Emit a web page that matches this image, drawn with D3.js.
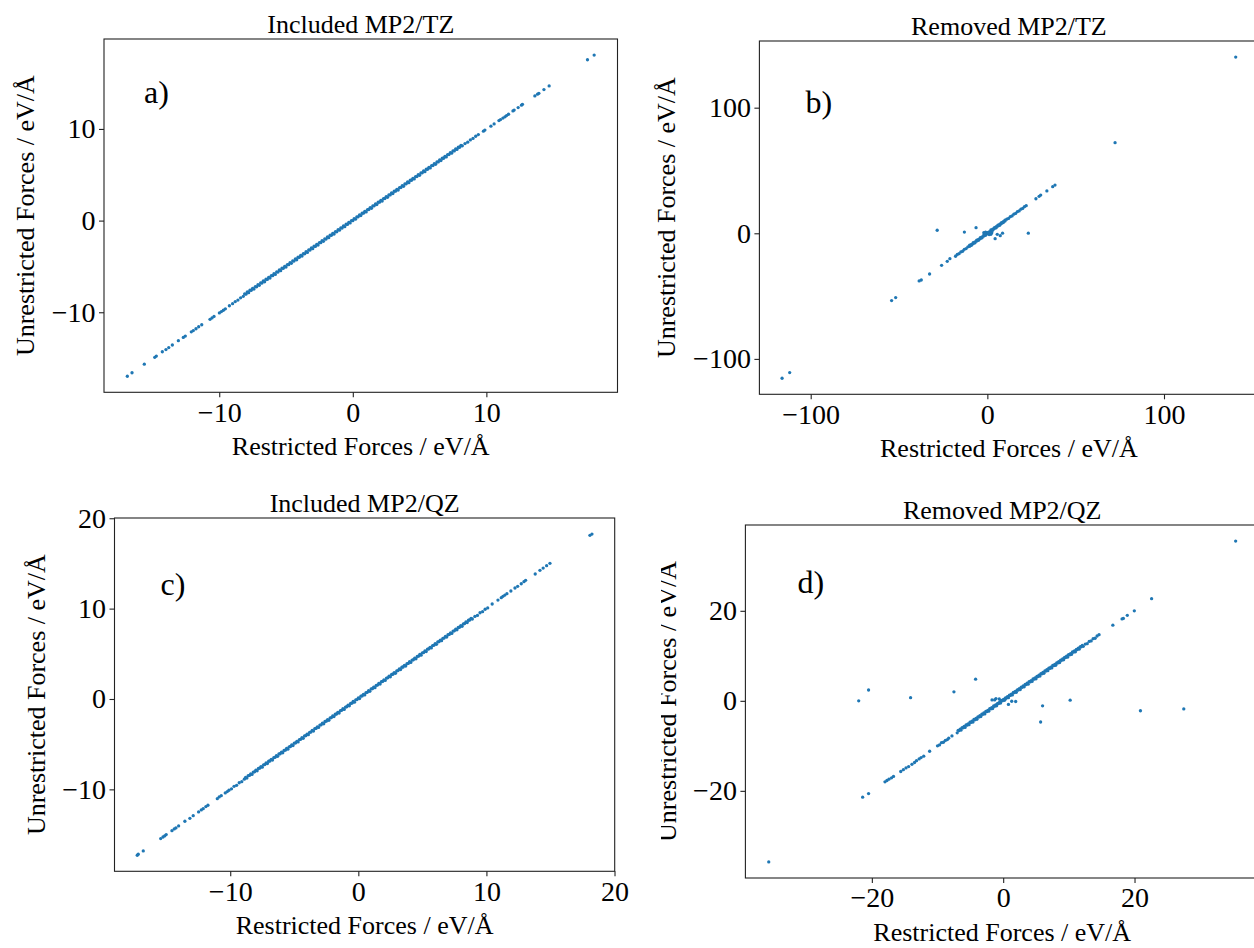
<!DOCTYPE html>
<html>
<head>
<meta charset="utf-8">
<script src="https://cdnjs.cloudflare.com/ajax/libs/d3/7.8.5/d3.min.js"></script>
<style>
  body { margin: 0; background: #fff; }
  svg text { font-family: "Liberation Serif", "DejaVu Serif", serif; fill: #000; }
</style>
</head>
<body>
<div id="chart"></div>
<script>

// ---- data: restricted (x) vs unrestricted (y) forces, eV/Å ----

// a) Included MP2/TZ
var aLow = [[-16.88,-16.98],[-16.53,-16.6],[-15.61,-15.66],[-14.83,-14.92],[-14.71,-14.78],[-14.26,-14.31],[-13.99,-14.07],
  [-13.78,-13.85],[-13.51,-13.57],[-13.06,-13.1],[-12.69,-12.74],[-12.54,-12.6],[-12.09,-12.13],[-11.94,-12.0],[-11.74,-11.8],
  [-11.54,-11.58],[-11.31,-11.36],[-10.69,-10.77],[-10.54,-10.62],[-10.39,-10.45],[-9.99,-10.07],[-9.84,-9.93],[-9.69,-9.78],
  [-9.54,-9.63],[-9.24,-9.29]];
var aDense = [[-9.0,-9.06],[-8.8,-8.83],[-8.6,-8.67],[-8.4,-8.42],[-8.2,-8.26],[-8.0,-8.03],[-7.8,-7.86],[-7.6,-7.61],[-7.4,-7.47],
  [-7.2,-7.22],[-7.0,-7.06],[-6.8,-6.81],[-6.6,-6.67],[-6.4,-6.42],[-6.2,-6.26],[-6.0,-6.01],[-5.8,-5.87],[-5.6,-5.62],[-5.4,-5.46],
  [-5.2,-5.21],[-5.0,-5.07],[-4.8,-4.81],[-4.6,-4.66],[-4.4,-4.42],[-4.2,-4.27],[-4.0,-4.01],[-3.8,-3.86],[-3.6,-3.62],[-3.4,-3.47],
  [-3.2,-3.21],[-3.0,-3.06],[-2.8,-2.82],[-2.6,-2.66],[-2.4,-2.41],[-2.2,-2.26],[-2.0,-2.02],[-1.8,-1.86],[-1.6,-1.61],[-1.4,-1.46],
  [-1.2,-1.22],[-1.0,-1.05],[-0.8,-0.81],[-0.6,-0.66],[-0.4,-0.42],[-0.2,-0.25],[0.0,-0.01],[0.2,0.15],[0.4,0.41],[0.6,0.55],
  [0.8,0.81],[1.0,0.95],[1.2,1.21],[1.4,1.35],[1.6,1.61],[1.8,1.75],[2.0,2.01],[2.2,2.14],[2.4,2.41],[2.6,2.55],[2.8,2.8],
  [3.0,2.95],[3.2,3.21],[3.4,3.34],[3.6,3.6],[3.8,3.75],[4.0,4.01],[4.2,4.14],[4.4,4.4],[4.6,4.55],[4.8,4.8],[5.0,4.95],
  [5.2,5.21],[5.4,5.34],[5.6,5.6],[5.8,5.75],[6.0,6.0],[6.2,6.15],[6.4,6.4],[6.6,6.55],[6.8,6.8],[7.0,6.95],[7.2,7.2],
  [7.4,7.36],[7.6,7.6],[7.8,7.76],[8.0,8.0],[8.2,8.16],[8.4,8.4],[8.6,8.56],[8.8,8.8],[9.0,8.96],[9.2,9.2],[9.4,9.38]];
var aDense2 = [[-8.1,-8.0],[-7.9,-7.79],[-7.7,-7.6],[-7.5,-7.39],[-7.3,-7.2],[-7.1,-6.99],[-6.9,-6.8],[-6.7,-6.59],[-6.5,-6.4],
  [-6.3,-6.19],[-6.1,-6.0],[-5.9,-5.79],[-5.7,-5.6],[-5.5,-5.39],[-5.3,-5.2],[-5.1,-4.99],[-4.9,-4.8],[-4.7,-4.59],[-4.5,-4.4],
  [-4.3,-4.19],[-4.1,-4.0],[-3.9,-3.79],[-3.7,-3.6],[-3.5,-3.39],[-3.3,-3.2],[-3.1,-2.99],[-2.9,-2.8],[-2.7,-2.59],[-2.5,-2.4],
  [-2.3,-2.19],[-2.1,-2.0],[-1.9,-1.79],[-1.7,-1.6],[-1.5,-1.39],[-1.3,-1.2],[-1.1,-0.99],[-0.9,-0.8],[-0.7,-0.59],[-0.5,-0.4],
  [-0.3,-0.19],[-0.1,0.0],[0.1,0.21],[0.3,0.4],[0.5,0.61],[0.7,0.8],[0.9,1.01],[1.1,1.2],[1.3,1.41],[1.5,1.6],[1.7,1.81],
  [1.9,2.0],[2.1,2.21],[2.3,2.4],[2.5,2.61],[2.7,2.8],[2.9,3.01],[3.1,3.2],[3.3,3.41],[3.5,3.6],[3.7,3.81],[3.9,4.0],
  [4.1,4.21],[4.3,4.4],[4.5,4.61],[4.7,4.8],[4.9,5.01],[5.1,5.2],[5.3,5.41],[5.5,5.6],[5.7,5.81],[5.9,6.0],[6.1,6.21],
  [6.3,6.4],[6.5,6.61],[6.7,6.8],[6.9,7.01],[7.1,7.2],[7.3,7.41],[7.5,7.6],[7.7,7.81],[7.9,8.0],[8.1,8.21]];
var aHigh = [[9.78,9.76],[9.89,9.88],[10.34,10.3],[10.58,10.55],[10.94,10.91],[11.06,11.02],[11.24,11.18],[11.39,11.32],
  [11.51,11.46],[11.66,11.6],[11.99,11.96],[12.08,12.06],[12.38,12.33],[12.63,12.59],[12.7,12.68],[13.63,13.6],[13.83,13.79],
  [13.93,13.89],[14.31,14.29],[14.7,14.69],[17.57,17.55],[18.07,18.06]];

// b) Removed MP2/TZ
var bLine = [[-116.2,-115.4],[-111.9,-110.9],[-54.2,-53.6],[-51.9,-51.2],[-38.6,-37.9],[-37.4,-37.2],[-32.7,-32.4],
  [-25.9,-25.5],[-22.7,-22.3],[-21.2,-20.2],
  [-18,-18.3],[-17,-16.8],[-16,-16.2],[-15,-14.8],[-14,-14.3],[-13,-12.8],[-12,-12.2],[-11,-10.8],[-10,-10.3],[-9,-8.8],
  [-8,-8.3],[-7,-6.8],[-6,-6.2],[-5,-4.8],[-4,-4.3],[-3,-2.8],[-2,-2.2],[-1,-0.8],[0,-0.3],[1,1.2],[2,1.8],[3,3.2],[4,3.8],
  [5,5.2],[6,5.8],[7,7.2],[8,7.8],[9,9.2],[10,9.8],[11,11.2],[12,11.8],[13,13.2],[14,13.8],[15,15.2],[16,15.8],[17,17.2],
  [18,17.8],[19,19.2],[20,19.8],[21,21.2],[22,22.0],
  [-10,-9.4],[-8,-7.5],[-6,-5.4],[-4,-3.5],[-2,-1.4],[0,0.6],[2,2.6],[4,4.5],[6,6.5],[8,8.5],[10,10.5],
  [-9,-9.6],[-7,-7.6],[-5,-5.6],[-3,-3.6],[-1,-1.6],[1,0.4],[3,2.4],[5,4.4],[7,6.4],[9,8.5],
  [27.5,27.5],[29.3,29.4],[30.2,30.4],[33.7,33.7],[37.0,37.1],[38.3,38.4],[72.3,72.1],[140.6,140.3]];
var bOff = [[-2,0.5],[-1,1.0],[1,-1.0],[2,-0.8],[0.5,0.6],[-1.5,-0.3],[2.5,0.5],
  [-28.4,2.4],[-13.0,1.0],[-6.4,4.5],[4.4,-4.3],[5.6,-0.8],[7.3,-1.9],[8.6,0.1],[23.2,0.1]];

// c) Included MP2/QZ
var cLow = [[-17.26,-17.29],[-17.18,-17.18],[-16.79,-16.81],[-15.43,-15.45],[-15.25,-15.27],[-15.12,-15.15],[-15.0,-15.0],
  [-14.55,-14.57],[-14.37,-14.38],[-14.24,-14.27],[-14.03,-14.05],[-13.54,-13.53],[-13.15,-13.2],[-12.89,-12.91],[-12.47,-12.5],
  [-12.26,-12.28],[-12.11,-12.14],[-11.9,-11.91],[-11.74,-11.76],[-11.01,-11.03],[-10.86,-10.84],[-10.7,-10.7],[-10.39,-10.4],
  [-10.23,-10.25],[-10.1,-10.1]];
var cDense = [[-9.9,-9.94],[-9.7,-9.66],[-9.5,-9.55],[-9.3,-9.27],[-9.1,-9.15],[-8.9,-8.87],[-8.7,-8.75],[-8.5,-8.46],
  [-8.3,-8.35],[-8.1,-8.06],[-7.9,-7.95],[-7.7,-7.66],[-7.5,-7.55],[-7.3,-7.26],[-7.1,-7.15],[-6.9,-6.86],[-6.7,-6.75],
  [-6.5,-6.46],[-6.3,-6.35],[-6.1,-6.06],[-5.9,-5.95],[-5.7,-5.66],[-5.5,-5.55],[-5.3,-5.26],[-5.1,-5.15],[-4.9,-4.86],
  [-4.7,-4.75],[-4.5,-4.46],[-4.3,-4.35],[-4.1,-4.06],[-3.9,-3.95],[-3.7,-3.66],[-3.5,-3.55],[-3.3,-3.26],[-3.1,-3.15],
  [-2.9,-2.86],[-2.7,-2.75],[-2.5,-2.46],[-2.3,-2.35],[-2.1,-2.06],[-1.9,-1.95],[-1.7,-1.66],[-1.5,-1.55],[-1.3,-1.26],
  [-1.1,-1.15],[-0.9,-0.86],[-0.7,-0.75],[-0.5,-0.46],[-0.3,-0.35],[-0.1,-0.06],[0.1,0.05],[0.3,0.34],[0.5,0.45],[0.7,0.74],
  [0.9,0.85],[1.1,1.14],[1.3,1.25],[1.5,1.54],[1.7,1.65],[1.9,1.94],[2.1,2.05],[2.3,2.34],[2.5,2.45],[2.7,2.74],[2.9,2.85],
  [3.1,3.14],[3.3,3.25],[3.5,3.54],[3.7,3.65],[3.9,3.94],[4.1,4.05],[4.3,4.34],[4.5,4.45],[4.7,4.74],[4.9,4.85],[5.1,5.14],
  [5.3,5.25],[5.5,5.54],[5.7,5.65],[5.9,5.94],[6.1,6.05],[6.3,6.34],[6.5,6.45],[6.7,6.74],[6.9,6.85],[7.1,7.14],[7.3,7.25],
  [7.5,7.54],[7.7,7.65],[7.9,7.94],[8.1,8.05],[8.3,8.34],[8.5,8.45],[8.7,8.74],[8.9,8.85],[9.1,9.14],[9.3,9.25],[9.5,9.54],
  [9.7,9.66],[9.9,9.93],[10.1,10.08]];
var cDense2 = [[-8.8,-8.68],[-8.6,-8.49],[-8.4,-8.28],[-8.2,-8.09],[-8.0,-7.88],[-7.8,-7.69],[-7.6,-7.48],[-7.4,-7.29],
  [-7.2,-7.08],[-7.0,-6.89],[-6.8,-6.68],[-6.6,-6.49],[-6.4,-6.28],[-6.2,-6.09],[-6.0,-5.88],[-5.8,-5.69],[-5.6,-5.48],
  [-5.4,-5.29],[-5.2,-5.08],[-5.0,-4.89],[-4.8,-4.68],[-4.6,-4.49],[-4.4,-4.28],[-4.2,-4.09],[-4.0,-3.88],[-3.8,-3.69],
  [-3.6,-3.48],[-3.4,-3.29],[-3.2,-3.08],[-3.0,-2.89],[-2.8,-2.68],[-2.6,-2.49],[-2.4,-2.28],[-2.2,-2.09],[-2.0,-1.88],
  [-1.8,-1.69],[-1.6,-1.48],[-1.4,-1.29],[-1.2,-1.08],[-1.0,-0.89],[-0.8,-0.68],[-0.6,-0.49],[-0.4,-0.28],[-0.2,-0.09],
  [0.0,0.12],[0.2,0.31],[0.4,0.52],[0.6,0.71],[0.8,0.92],[1.0,1.11],[1.2,1.32],[1.4,1.51],[1.6,1.72],[1.8,1.91],[2.0,2.12],
  [2.2,2.31],[2.4,2.52],[2.6,2.71],[2.8,2.92],[3.0,3.11],[3.2,3.32],[3.4,3.51],[3.6,3.72],[3.8,3.91],[4.0,4.12],[4.2,4.31],
  [4.4,4.52],[4.6,4.71],[4.8,4.92],[5.0,5.11],[5.2,5.32],[5.4,5.51],[5.6,5.72],[5.8,5.91],[6.0,6.12],[6.2,6.31],[6.4,6.52],
  [6.6,6.71],[6.8,6.92],[7.0,7.11],[7.2,7.32],[7.4,7.51],[7.6,7.72],[7.8,7.91],[8.0,8.12],[8.2,8.31],[8.4,8.52],[8.6,8.71],
  [8.8,8.92]];
var cHigh = [[10.45,10.51],[10.9,10.95],[11.16,11.21],[11.29,11.36],[11.44,11.5],[11.6,11.65],[11.91,11.95],[12.23,12.28],
  [12.44,12.47],[12.72,12.75],[12.93,12.98],[13.06,13.13],[13.81,13.83],[14.18,14.24],[14.43,14.49],[14.7,14.75],
  [14.96,15.01],[18.08,18.11],[18.24,18.25]];

// d) Removed MP2/QZ
var dLow = [[-35.7,-35.8],[-21.4,-21.4],[-20.5,-20.6],[-18.0,-18.0],[-17.7,-17.7],[-17.4,-17.4],[-17.0,-17.1],[-16.7,-16.8],
  [-15.6,-15.7],[-15.2,-15.3],[-14.8,-14.9],[-14.4,-14.6],[-13.9,-14.1],[-13.5,-13.7],[-13.2,-13.3],[-12.8,-12.9],
  [-12.5,-12.6],[-12.1,-12.3],[-11.2,-11.2]];
var dDense = [[-10.0,-10.0],[-9.7,-9.8],[-9.4,-9.3],[-9.1,-9.2],[-8.8,-8.8],[-8.5,-8.6],[-8.3,-8.3],[-7.8,-7.8],
  [-7.0,-7.1],[-6.7,-6.6],[-6.4,-6.5],[-6.1,-6.0],[-5.8,-5.9],[-5.5,-5.4],[-5.2,-5.3],[-4.9,-4.8],[-4.6,-4.7],[-4.3,-4.2],
  [-4.0,-4.1],[-3.7,-3.6],[-3.4,-3.5],[-3.1,-3.0],[-2.8,-2.9],[-2.5,-2.4],[-2.2,-2.3],[-1.9,-1.8],[-1.6,-1.7],[-1.3,-1.2],
  [-1.0,-1.1],[-0.7,-0.6],[-0.4,-0.5],[-0.1,0.0],[0.2,0.1],[0.5,0.6],[0.8,0.7],[1.1,1.2],[1.4,1.3],[1.7,1.8],[2.0,1.9],
  [2.3,2.4],[2.6,2.5],[2.9,3.0],[3.2,3.1],[3.5,3.6],[3.8,3.7],[4.1,4.2],[4.4,4.3],[4.7,4.8],[5.0,4.9],[5.3,5.4],[5.6,5.5],
  [5.9,6.0],[6.2,6.1],[6.5,6.6],[6.8,6.7],[7.1,7.2],[7.4,7.3],[7.7,7.8],[8.0,7.9],[8.3,8.4],[8.6,8.5],[8.9,9.0],[9.2,9.1],
  [9.5,9.6],[9.8,9.7],[10.1,10.2],[10.4,10.3],[10.7,10.8],[11.0,10.9],[11.3,11.4],[11.6,11.5],[11.9,12.0],[12.2,12.1],
  [12.5,12.6],[12.8,12.7],[13.1,13.2],[13.4,13.3],[13.7,13.8],[14.0,13.9],[14.3,14.4],[14.6,14.7]];
var dDense2 = [[-6.85,-6.55],[-6.55,-6.3],[-6.25,-5.95],[-5.95,-5.7],[-5.65,-5.35],[-5.35,-5.1],[-5.05,-4.75],[-4.75,-4.5],
  [-4.45,-4.15],[-4.15,-3.9],[-3.85,-3.55],[-3.55,-3.3],[-3.25,-2.95],[-2.95,-2.7],[-2.65,-2.35],[-2.35,-2.1],[-2.05,-1.75],
  [-1.75,-1.5],[-1.45,-1.15],[-1.15,-0.9],[-0.85,-0.55],[-0.55,-0.3],[-0.25,0.05],[0.05,0.3],[0.35,0.65],[0.65,0.9],
  [0.95,1.25],[1.25,1.5],[1.55,1.85],[1.85,2.1],[2.15,2.45],[2.45,2.7],[2.75,3.05],[3.05,3.3],[3.35,3.65],[3.65,3.9],
  [3.95,4.25],[4.25,4.5],[4.55,4.85],[4.85,5.1],[5.15,5.45],[5.45,5.7],[5.75,6.05],[6.05,6.3],[6.35,6.65],[6.65,6.9],
  [6.95,7.25],[7.25,7.5],[7.55,7.85],[7.85,8.1],[8.15,8.45],[8.45,8.7],[8.75,9.05],[9.05,9.3],[9.35,9.65],[9.65,9.9],
  [9.95,10.25],[10.25,10.5],[10.55,10.85],[10.85,11.1],[11.15,11.45],[11.45,11.7],[11.75,12.05],[12.05,12.3]];
var dHigh = [[16.7,16.8],[18.1,18.2],[18.3,18.3],[18.9,19.0],[19.97,20.0],[22.6,22.7],[35.4,35.5]];
var dOff = [[-1.7,0.2],[-1.3,0.2],[-1.1,0.5],[-0.6,0.4],[-0.3,0.1],[0.3,0.4],[0.8,-0.8],[1.3,-0.1],[1.9,-0.15],
  [-22.0,0.0],[-20.5,2.4],[-14.1,0.7],[-7.5,2.0],[-4.2,4.8],[6.0,-1.1],[5.7,-4.7],[10.2,0.15],[20.9,-2.2],[27.5,-1.8]];

// tick values
var aTicks = [-10, 0, 10];
var bTicks = [-100, 0, 100];
var cTicks = [-10, 0, 10, 20];
var dTicks = [-20, 0, 20];

var titles = ["Included MP2/TZ", "Removed MP2/TZ", "Included MP2/QZ", "Removed MP2/QZ"];
var letters = ["a)", "b)", "c)", "d)"];
var xLabel = "Restricted Forces / eV/Å";
var yLabel = "Unrestricted Forces / eV/Å";

// ---- layout (pixel boxes of each axes, as cropped in the original figure) ----
var W = 1254, H = 948;
var panels = [
  { points: aLow.concat(aDense, aDense2, aHigh), ticks: aTicks, box: [104, 39, 617.5, 392.3], yOff: 70, letter: [40, 64] },
  { points: bLine.concat(bOff), ticks: bTicks, box: [759.4, 41, 1258.4, 394.3], yOff: 84, letter: [46, 72] },
  { points: cLow.concat(cDense, cDense2, cHigh), ticks: cTicks, box: [114.5, 518, 614.7, 871.3], yOff: 70, letter: [46, 77] },
  { points: dLow.concat(dDense, dDense2, dHigh, dOff), ticks: dTicks, box: [745.4, 525, 1259, 878], yOff: 69, letter: [52, 68], clipLeft: 661 }
];

var svg = d3.select("#chart").append("svg")
    .attr("width", W)
    .attr("height", H);

svg.append("rect").attr("width", W).attr("height", H).attr("fill", "#fff");

// matplotlib-like autoscale: data extent padded by 5% each side
function padded(ext) {
    var m = (ext[1] - ext[0]) * 0.05;
    return [ext[0] - m, ext[1] + m];
}

panels.forEach(function(p, i) {
    var left = p.box[0], top = p.box[1], right = p.box[2], bottom = p.box[3];

    var x = d3.scaleLinear()
        .domain(padded(d3.extent(p.points, function(d) { return d[0]; })))
        .range([left, right]);
    var y = d3.scaleLinear()
        .domain(padded(d3.extent(p.points, function(d) { return d[1]; })))
        .range([bottom, top]);

    var g = svg.append("g").attr("class", "panel");

    // points
    g.append("g").selectAll("circle")
        .data(p.points)
        .enter().append("circle")
        .attr("cx", function(d) { return x(d[0]); })
        .attr("cy", function(d) { return y(d[1]); })
        .attr("r", 1.65)
        .attr("fill", "#1f77b4");

    // spines
    g.append("rect")
        .attr("x", left).attr("y", top)
        .attr("width", right - left).attr("height", bottom - top)
        .attr("fill", "none")
        .attr("stroke", "#222")
        .attr("stroke-width", 1.1);

    // axes
    var xAxis = g.append("g")
        .attr("transform", "translate(0," + bottom + ")")
        .call(d3.axisBottom(x).tickValues(p.ticks).tickSize(5).tickPadding(4.5));
    var yAxis = g.append("g")
        .attr("transform", "translate(" + left + ",0)")
        .call(d3.axisLeft(y).tickValues(p.ticks).tickSize(5).tickPadding(3.5));

    [xAxis, yAxis].forEach(function(ax) {
        ax.select(".domain").remove();
        ax.selectAll("line").attr("stroke", "#222").attr("stroke-width", 1.1);
        ax.selectAll("text")
            .attr("font-family", "'Liberation Serif', 'DejaVu Serif', serif")
            .attr("font-size", 28)
            .attr("fill", "#000");
    });

    // title
    g.append("text")
        .attr("x", (left + right) / 2)
        .attr("y", top - 6.5)
        .attr("text-anchor", "middle")
        .attr("font-size", 26)
        .text(titles[i]);

    // x label
    g.append("text")
        .attr("x", (left + right) / 2)
        .attr("y", bottom + 62.5)
        .attr("text-anchor", "middle")
        .attr("font-size", 26)
        .text(xLabel);

    // y label (panel d is cut off on the left in the original figure)
    var yg = g.append("g");
    if (p.clipLeft) {
        svg.append("clipPath").attr("id", "clip" + i)
            .append("rect")
            .attr("x", p.clipLeft).attr("y", 0)
            .attr("width", W - p.clipLeft).attr("height", H);
        yg.attr("clip-path", "url(#clip" + i + ")");
    }
    yg.append("text")
        .attr("transform", "translate(" + (left - p.yOff) + "," + ((top + bottom) / 2) + ") rotate(-90)")
        .attr("text-anchor", "middle")
        .attr("font-size", 26)
        .text(yLabel);

    // panel letter
    g.append("text")
        .attr("x", left + p.letter[0])
        .attr("y", top + p.letter[1])
        .attr("font-size", 32)
        .text(letters[i]);
});

</script>
</body>
</html>
